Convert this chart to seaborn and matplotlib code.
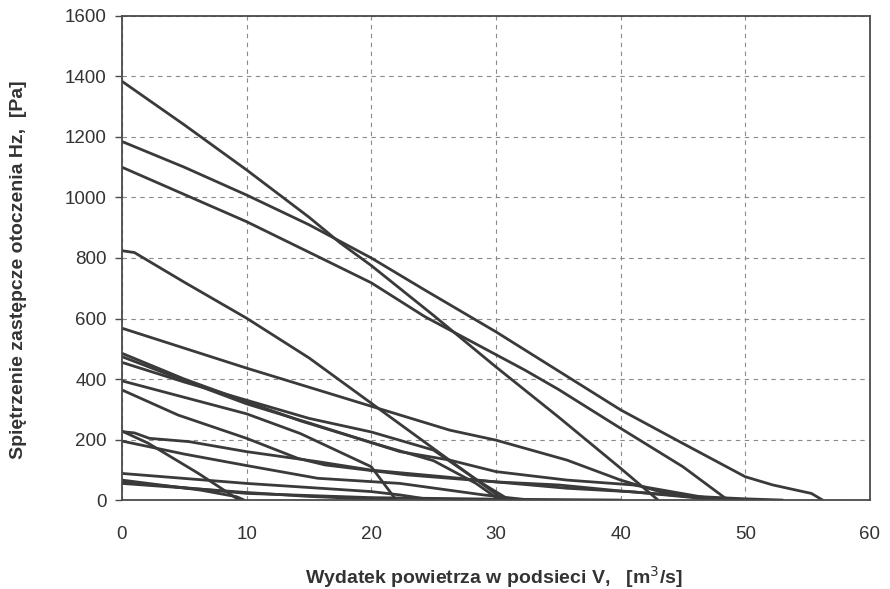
import matplotlib
matplotlib.use("Agg")
import matplotlib.pyplot as plt
import seaborn as sns
import pandas as pd

# characteristic curves: V [m3/s] -> Hz [Pa]
curve_a_x = [0, 5, 10, 15, 17.5, 20, 25, 30, 35, 40, 43]
curve_a_y = [1384, 1240, 1091, 935, 850, 775, 610, 440, 275, 105, 0]
curve_b_x = [0, 5, 10, 15, 20, 24.3, 30, 35, 40, 44.5, 50, 52.2, 54.4, 55.3, 56.2]
curve_b_y = [1185, 1100, 1008, 910, 800, 694, 556, 427, 298, 198, 77, 50, 30, 22, 0]
curve_c_x = [0, 5, 10, 16, 20, 24.3, 32.3, 35, 40, 45, 48.6]
curve_c_y = [1100, 1010, 920, 799, 718, 606, 430, 366, 237, 110, 0]
curve_d_x = [0, 1, 5, 10, 15, 20, 25, 30, 30.5]
curve_d_y = [824, 818, 720, 601, 470, 320, 170, 20, 0]
curve_e_x = [0, 10, 20, 26.3, 30, 35.7, 40, 43.2, 46.4, 49]
curve_e_y = [568, 436, 310, 231, 198, 132, 66, 27, 6, 0]
curve_f_x = [0, 5, 10, 14.3, 20, 25, 28.4, 30.3]
curve_f_y = [485, 400, 325, 262, 190, 130, 55, 0]
curve_g_x = [0, 5, 10, 15, 20, 22.3, 26.3, 30, 35.7, 41, 46.4, 48]
curve_g_y = [474, 395, 318, 255, 190, 160, 132, 94, 66, 50, 11, 0]
curve_h_x = [0, 5, 10, 15, 20, 25, 28.7, 31.1]
curve_h_y = [455, 390, 330, 270, 225, 165, 60, 0]
curve_i_x = [0, 10, 14.3, 20, 22]
curve_i_y = [394, 285, 220, 110, 0]
curve_j_x = [0, 4.5, 10, 14.1, 16.3, 22.9, 30, 35.7, 41, 46.4, 50]
curve_j_y = [364, 281, 204, 138, 116, 83, 60, 39, 27, 6, 0]
curve_k_x = [0, 1, 2.2, 5.4, 10, 15.7, 20, 25.8, 30, 35, 40, 45, 50, 53]
curve_k_y = [226, 222, 204, 193, 160, 127, 99, 77, 60, 50, 30, 14, 4, 0]
curve_l_x = [0, 2.1, 6.1, 9, 9.4]
curve_l_y = [228, 188, 89, 11, 0]
curve_m_x = [0, 5, 10, 15.7, 22.3, 29, 32.7]
curve_m_y = [195, 152, 114, 72, 55, 17, 0]
curve_n_x = [0, 10, 20, 22.3, 25]
curve_n_y = [88, 55, 28, 17, 0]
curve_o_x = [0, 6.3, 9.2, 9.8]
curve_o_y = [66, 33, 11, 0]
curve_p_x = [0, 10, 20, 30, 40]
curve_p_y = [60, 22, 8, 3, 0]
curve_q_x = [0, 5, 10, 15, 22]
curve_q_y = [55, 40, 25, 12, 0]

curves = [
    (curve_a_x, curve_a_y), (curve_b_x, curve_b_y), (curve_c_x, curve_c_y),
    (curve_d_x, curve_d_y), (curve_e_x, curve_e_y), (curve_f_x, curve_f_y),
    (curve_g_x, curve_g_y), (curve_h_x, curve_h_y), (curve_i_x, curve_i_y),
    (curve_j_x, curve_j_y), (curve_k_x, curve_k_y), (curve_l_x, curve_l_y),
    (curve_m_x, curve_m_y), (curve_n_x, curve_n_y), (curve_o_x, curve_o_y),
    (curve_p_x, curve_p_y), (curve_q_x, curve_q_y),
]

x_ticks = [0, 10, 20, 30, 40, 50, 60]
y_ticks = [0, 200, 400, 600, 800, 1000, 1200, 1400, 1600]

sns.set_style("white")
plt.rcParams["font.family"] = ["Liberation Sans", "DejaVu Sans"]

rows = []
for i, (xs, ys) in enumerate(curves):
    for x, y in zip(xs, ys):
        rows.append({"curve": i, "V": x, "Hz": y})
df = pd.DataFrame(rows)

fig = plt.figure(figsize=(8.9, 5.89), dpi=100)
ax = fig.add_axes([0.137, 0.151, 0.8405, 0.822])

line_color = "#3a3a3a"
for i, grp in df.groupby("curve"):
    sns.lineplot(data=grp, x="V", y="Hz", color=line_color, linewidth=2.0,
                 sort=False, estimator=None, ax=ax, legend=False)

ax.set_xlim(0, 60)
ax.set_ylim(0, 1600)
ax.set_xticks(x_ticks)
ax.set_yticks(y_ticks)
ax.grid(True, color="#8a8a8a", linestyle=(0, (4, 4)), linewidth=0.8)
ax.set_axisbelow(True)

for side in ["top", "right", "left", "bottom"]:
    ax.spines[side].set_visible(True)
    ax.spines[side].set_color("#4a4a4a")
    ax.spines[side].set_linewidth(1.3)

ax.tick_params(axis="y", which="both", left=True, length=5, width=1,
               color="#4a4a4a", labelsize=13.5, labelcolor="#333333", pad=6)
ax.tick_params(axis="x", which="both", bottom=False, labelsize=13.5,
               labelcolor="#333333", pad=15)

ax.set_xlabel("")
ax.set_ylabel("")
# axis titles placed where the reference has them
fig.text(494 / 890, 1 - 577 / 589, "Wydatek powietrza w podsieci V,   [m$^3$/s]",
         fontsize=14, fontweight="bold", color="#333333",
         ha="center", va="center")
fig.text(19 / 890, 1 - 270 / 589, "Spiętrzenie zastępcze otoczenia Hz,  [Pa]",
         fontsize=14, fontweight="bold", color="#333333",
         ha="center", va="center", rotation=90)

plt.savefig("out.png", dpi=100)
plt.close()
